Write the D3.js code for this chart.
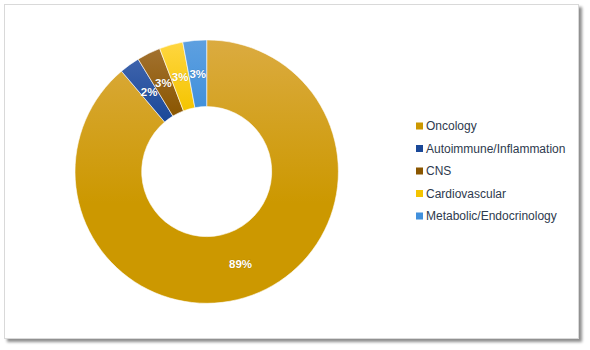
<!DOCTYPE html>
<html><head><meta charset="utf-8">
<script src="https://cdn.jsdelivr.net/npm/d3@7"></script>
<style>body{margin:0;background:#fff;}svg{display:block;}</style>
</head><body>
<svg id="c" width="590" height="350"></svg>
<script>
const categories = ["Oncology","Autoimmune/Inflammation","CNS","Cardiovascular","Metabolic/Endocrinology"];
const values = [88.8, 2.49, 2.9, 2.9, 2.91];
const colors = ["#CC9800","#1A4898","#8A5600","#F4C400","#4190DC"];
const lightColors = ["#DBAB40","#3E63AC","#A2712F","#FFD640","#5EA0E0"];

const svg = d3.select("#c");
const defs = svg.append("defs");
const sh = defs.append("filter").attr("id","sh").attr("x","-5%").attr("y","-5%").attr("width","115%").attr("height","115%");
sh.append("feGaussianBlur").attr("in","SourceAlpha").attr("stdDeviation",1.6);
sh.append("feOffset").attr("dx",3).attr("dy",3).attr("result","b");
sh.append("feComponentTransfer").append("feFuncA").attr("type","linear").attr("slope",0.45);
const m = sh.append("feMerge"); m.append("feMergeNode"); m.append("feMergeNode").attr("in","SourceGraphic");

svg.append("rect").attr("x",4.5).attr("y",4.5).attr("width",574).attr("height",334)
  .attr("fill","#fff").attr("stroke","#D9D9D9").attr("filter","url(#sh)");

categories.forEach((c,i)=>{
  const g = defs.append("linearGradient").attr("id","g"+i).attr("x1",0).attr("y1",0).attr("x2",0).attr("y2",1);
  g.append("stop").attr("offset","0%").attr("stop-color",lightColors[i]);
  g.append("stop").attr("offset",i===0?"62%":"100%").attr("stop-color",colors[i]);
  g.append("stop").attr("offset","100%").attr("stop-color",colors[i]);
});

const cx = 206.7, cy = 171.6, R = 131.7, r0 = 65;
const data = categories.map((c,i)=>({c, v: values[i], i}));
const pie = d3.pie().value(d=>d.v).sort(null);
const arc = d3.arc().innerRadius(r0).outerRadius(R);
const total = d3.sum(values);
const g = svg.append("g").attr("transform",`translate(${cx},${cy})`);
const arcs = pie(data);
g.selectAll("path").data(arcs).join("path")
  .attr("d",arc).attr("fill",d=>`url(#g${d.data.i})`)
  .attr("stroke","#fff").attr("stroke-width",0.6);

const lblArc = d3.arc().innerRadius((r0+R)/2).outerRadius((r0+R)/2);
g.selectAll("text").data(arcs).join("text")
  .attr("transform",d=>`translate(${lblArc.centroid(d)})`)
  .attr("text-anchor","middle").attr("dy","0.36em")
  .attr("font-family","Liberation Sans, Arial, sans-serif").attr("font-size",11.5).attr("font-weight","bold")
  .attr("fill","#fff").style("paint-order","stroke").attr("stroke","rgba(0,0,0,0.12)").attr("stroke-width",1)
  .text(d=>Math.round(d.data.v/total*100)+"%");

const legY = d3.scalePoint().domain(categories).range([126,216]);
const leg = svg.append("g");
const items = leg.selectAll("g").data(data).join("g").attr("transform",d=>`translate(416,${legY(d.c)})`);
items.append("rect").attr("x",0).attr("y",-3.5).attr("width",7).attr("height",7).attr("fill",d=>colors[d.i]);
items.append("text").attr("x",10).attr("dy","0.35em")
  .attr("font-family","Liberation Sans, Arial, sans-serif").attr("font-size",12).attr("fill","#2E3A4E")
  .text(d=>d.c);
</script>
</body></html>
